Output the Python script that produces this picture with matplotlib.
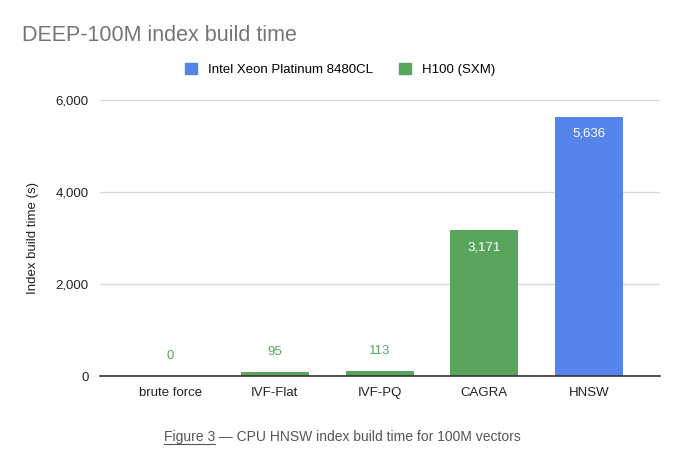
import matplotlib.pyplot as plt
from matplotlib.lines import Line2D

categories = ['brute force', 'IVF-Flat', 'IVF-PQ', 'CAGRA', 'HNSW']
build_time = [0, 95, 113, 3171, 5636]
hardware = ['H100 (SXM)', 'H100 (SXM)', 'H100 (SXM)', 'H100 (SXM)', 'Intel Xeon Platinum 8480CL']
yticks = [0, 2000, 4000, 6000]

blue = '#5585EB'
green = '#5AA55C'
colors = {'Intel Xeon Platinum 8480CL': blue, 'H100 (SXM)': green}

plt.rcParams['font.family'] = ['Liberation Sans', 'DejaVu Sans']

fig = plt.figure(figsize=(6.8, 4.5), dpi=100)
ax = fig.add_axes([0.147, 0.164, 0.824, 0.614])

x = list(range(len(categories)))
bar_colors = [colors[h] for h in hardware]
bars = ax.bar(x, build_time, width=0.65, color=bar_colors, zorder=3)

# value labels: inside for tall bars, above for short ones
for xi, v, c in zip(x, build_time, bar_colors):
    label = f'{v:,}'
    if v > 1000:
        ax.annotate(label, (xi, v), xytext=(0, -8), textcoords='offset points',
                    ha='center', va='top', color='white', fontsize=9.5, zorder=4)
    else:
        ax.annotate(label, (xi, v), xytext=(0, 10), textcoords='offset points',
                    ha='center', va='bottom', color=c, fontsize=9.5, zorder=4)

ax.set_xlim(-0.67, 4.68)
ax.set_ylim(0, 6000)
ax.set_yticks(yticks)
ax.set_yticklabels([f'{t:,}' for t in yticks])
ax.set_xticks(x)
ax.set_xticklabels(categories)
ax.tick_params(axis='both', length=0, labelsize=9.5, colors='#222222')
ax.tick_params(axis='x', pad=8)
ax.tick_params(axis='y', pad=8)
ax.grid(axis='y', color='#d9d9d9', linewidth=1, zorder=0)
for s in ['top', 'right', 'left']:
    ax.spines[s].set_visible(False)
ax.spines['bottom'].set_color('#333333')
ax.spines['bottom'].set_linewidth(1.2)
ax.spines['bottom'].set_zorder(5)
ax.set_ylabel('Index build time (s)', fontsize=9.5, color='#222222', labelpad=12)

fig.text(0.032, 0.922, 'DEEP-100M index build time', fontsize=15.5, color='#757575',
         ha='left', va='center')

handles = [plt.Rectangle((0, 0), 1, 1, color=blue), plt.Rectangle((0, 0), 1, 1, color=green)]
fig.legend(handles, ['Intel Xeon Platinum 8480CL', 'H100 (SXM)'], loc='center',
           bbox_to_anchor=(0.5, 0.845), ncol=2, frameon=False, fontsize=9.5,
           handlelength=0.9, handleheight=0.9, columnspacing=2.0, handletextpad=0.8)

# caption with underlined "Figure 3"
cap_color = '#555555'
t1 = fig.text(0.241, 0.021, 'Figure 3', fontsize=10, color=cap_color, ha='left', va='baseline')
fig.canvas.draw()
bb = t1.get_window_extent().transformed(fig.transFigure.inverted())
fig.text(bb.x1, 0.021, ' \u2014 CPU HNSW index build time for 100M vectors', fontsize=10,
         color=cap_color, ha='left', va='baseline')
fig.add_artist(Line2D([bb.x0, bb.x1], [0.013, 0.013], color=cap_color, linewidth=0.8))

fig.savefig('out.png', dpi=100)
